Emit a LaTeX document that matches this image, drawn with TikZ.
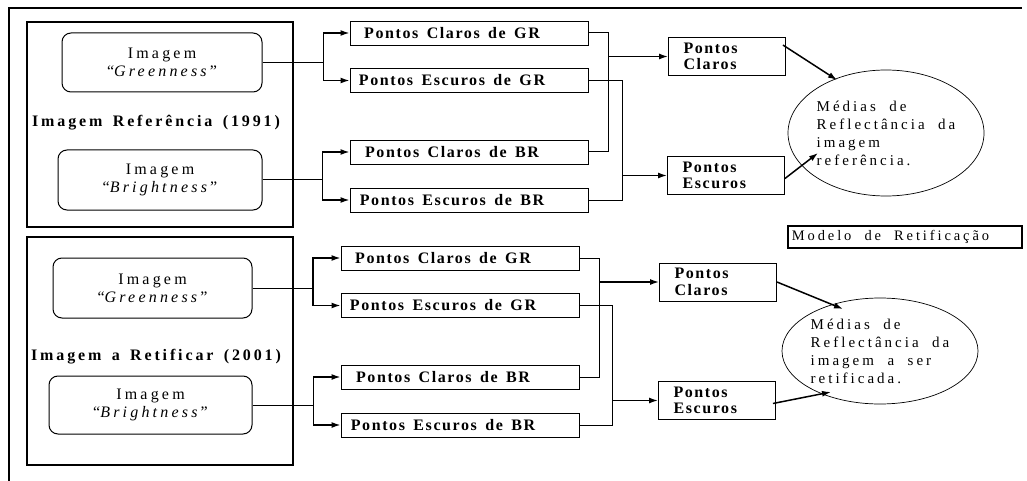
\documentclass[tikz,border=0pt]{standalone}
\usepackage{fontspec}
\setmainfont{Liberation Serif}
\newfontfamily\boxfont[LetterSpace=10, WordSpace=1.5]{Liberation Serif}
\newfontfamily\wordfont[LetterSpace=20, WordSpace=2]{Liberation Serif}
\newfontfamily\titlefont[LetterSpace=18, WordSpace=1.5]{Liberation Serif}
\usepackage{tikz}
\usetikzlibrary{arrows.meta, shapes.geometric, positioning, calc}

\tikzset{
  frame/.style={line width=2.2pt},
  groupbox/.style={draw, line width=1.8pt, inner sep=0pt},
  imgbox/.style={draw, line width=1pt, rounded corners=9pt, align=center, inner sep=0pt,
    font=\wordfont\fontsize{16}{18}\selectfont},
  grouptitle/.style={inner sep=0pt, font=\titlefont\bfseries\fontsize{16}{18}\selectfont},
  ptbox/.style={draw, line width=0.9pt, minimum width=238pt, minimum height=24pt, inner sep=0pt,
    font=\boxfont\bfseries\fontsize{16}{18}\selectfont, execute at end node={\hspace*{34pt}}},
  sumbox/.style={draw, line width=0.9pt, align=left, text width=87pt, inner xsep=15pt, inner ysep=0pt,
    minimum height=38pt, font=\boxfont\bfseries\fontsize{16}{16.5}\selectfont},
  mean/.style={draw, ellipse, line width=0.7pt, inner sep=0pt, align=left,
    font=\wordfont\fontsize{15}{18}\selectfont},
  modelbox/.style={draw, line width=1.8pt, minimum width=234pt, minimum height=22pt, inner sep=0pt,
    font=\wordfont\fontsize{14.5}{16}\selectfont, execute at end node={\hspace*{29pt}}},
  link/.style={line width=1pt},
  feed/.style={line width=1.5pt, ->},
}

\begin{document}
\begin{tikzpicture}[x=1pt, y=-1pt, >={Latex[length=9pt,width=6pt]}]
  \useasboundingbox (0,0) rectangle (1027,481);

  % outer frame, open on the right and at the bottom
  \draw[frame] (9,481) -- (9,8) -- (1022,8);

  % --- Imagem de referencia (1991) ---
  \node[groupbox, minimum width=266pt, minimum height=205pt] (grp1) at (160,124.5) {};
  \node[imgbox, minimum width=200pt, minimum height=59pt] (grn1) at (162,62.5) {Imagem\\“\textit{Greenness}”};
  \node[grouptitle] (tit1) at (156,123) {Imagem Referência (1991)};
  \node[imgbox, minimum width=204pt, minimum height=60pt] (brt1) at (160,180) {Imagem\\“\textit{Brightness}”};

  \node[ptbox] (cgr1) at (469,33)  {Pontos Claros de GR};
  \node[ptbox] (egr1) at (469,80.5) {Pontos Escuros de GR};
  \node[ptbox] (cbr1) at (469,152) {Pontos Claros de BR};
  \node[ptbox] (ebr1) at (469,200) {Pontos Escuros de BR};

  \node[sumbox] (pc1) at (727,56.5)  {Pontos\\Claros};
  \node[sumbox] (pe1) at (726,175.5) {Pontos\\Escuros};

  \node[mean, minimum width=176pt, minimum height=126pt] (med1) at (886,133)
    {Médias de\\Reflectância da\\imagem\\referência.};

  % split each image into light and dark points
  \draw[link] (grn1.east) -- ++(61,0) coordinate (jg1);
  \draw[feed] (jg1) |- (cgr1.west);
  \draw[feed] (jg1) |- (egr1.west);
  \draw[link] (brt1.east) -- ++(60,0) coordinate (jb1);
  \draw[feed] (jb1) |- (cbr1.west);
  \draw[feed] (jb1) |- (ebr1.west);

  % join GR and BR
  \draw[link] (cgr1.east) -- ++(20,0) coordinate (mc1) |- (cbr1.east);
  \draw[feed] (mc1 |- pc1.west) -- (pc1.west);
  \draw[link] (egr1.east) -- ++(34,0) coordinate (me1) |- (ebr1.east);
  \draw[feed] (me1 |- pe1.west) -- (pe1.west);

  \draw[feed] ($(pc1.north east)+(-3,8)$) -- ($(med1.center)+(-49,-53)$);
  \draw[feed] ($(pe1.east)+(0,3)$) -- ($(med1.center)+(-68,20)$);

  \node[modelbox] (mod) at (905,237) {Modelo de Retificação};

  % --- Imagem a retificar (2001) ---
  \node[groupbox, minimum width=266pt, minimum height=228pt] (grp2) at (160,351) {};
  \node[imgbox, minimum width=199pt, minimum height=60pt] (grn2) at (152.5,288) {Imagem\\“\textit{Greenness}”};
  \node[grouptitle] (tit2) at (156,357) {Imagem a Retificar (2001)};
  \node[imgbox, minimum width=203pt, minimum height=58pt] (brt2) at (150.5,405) {Imagem\\“\textit{Brightness}”};

  \node[ptbox] (cgr2) at (460,258)   {Pontos Claros de GR};
  \node[ptbox] (egr2) at (460,305.5) {Pontos Escuros de GR};
  \node[ptbox] (cbr2) at (460,377)   {Pontos Claros de BR};
  \node[ptbox] (ebr2) at (460,425)   {Pontos Escuros de BR};

  \node[sumbox] (pc2) at (718,282)   {Pontos\\Claros};
  \node[sumbox] (pe2) at (717,400.5) {Pontos\\Escuros};

  \node[mean, minimum width=176pt, minimum height=106pt] (med2) at (880,351)
    {Médias de\\Reflectância da\\imagem a ser\\retificada.};

  \draw[link] (grn2.east) -- ++(60.5,0) coordinate (jg2);
  \draw[feed] (jg2) |- (cgr2.west);
  \draw[feed] (jg2) |- (egr2.west);
  \draw[link] (brt2.east) -- ++(61,0) coordinate (jb2);
  \draw[feed] (jb2) |- (cbr2.west);
  \draw[feed] (jb2) |- (ebr2.west);

  \draw[link] (cgr2.east) -- ++(20,0) coordinate (mc2) |- (cbr2.east);
  \draw[feed] (mc2 |- pc2.west) -- (pc2.west);
  \draw[link] (egr2.east) -- ++(33,0) coordinate (me2) |- (ebr2.east);
  \draw[feed] (me2 |- pe2.west) -- (pe2.west);

  \draw[feed] (pc2.east) -- ($(med2.center)+(-37,-42)$);
  \draw[feed] ($(pe2.east)+(-3,3)$) -- ($(med2.center)+(-49,41)$);
\end{tikzpicture}
\end{document}
